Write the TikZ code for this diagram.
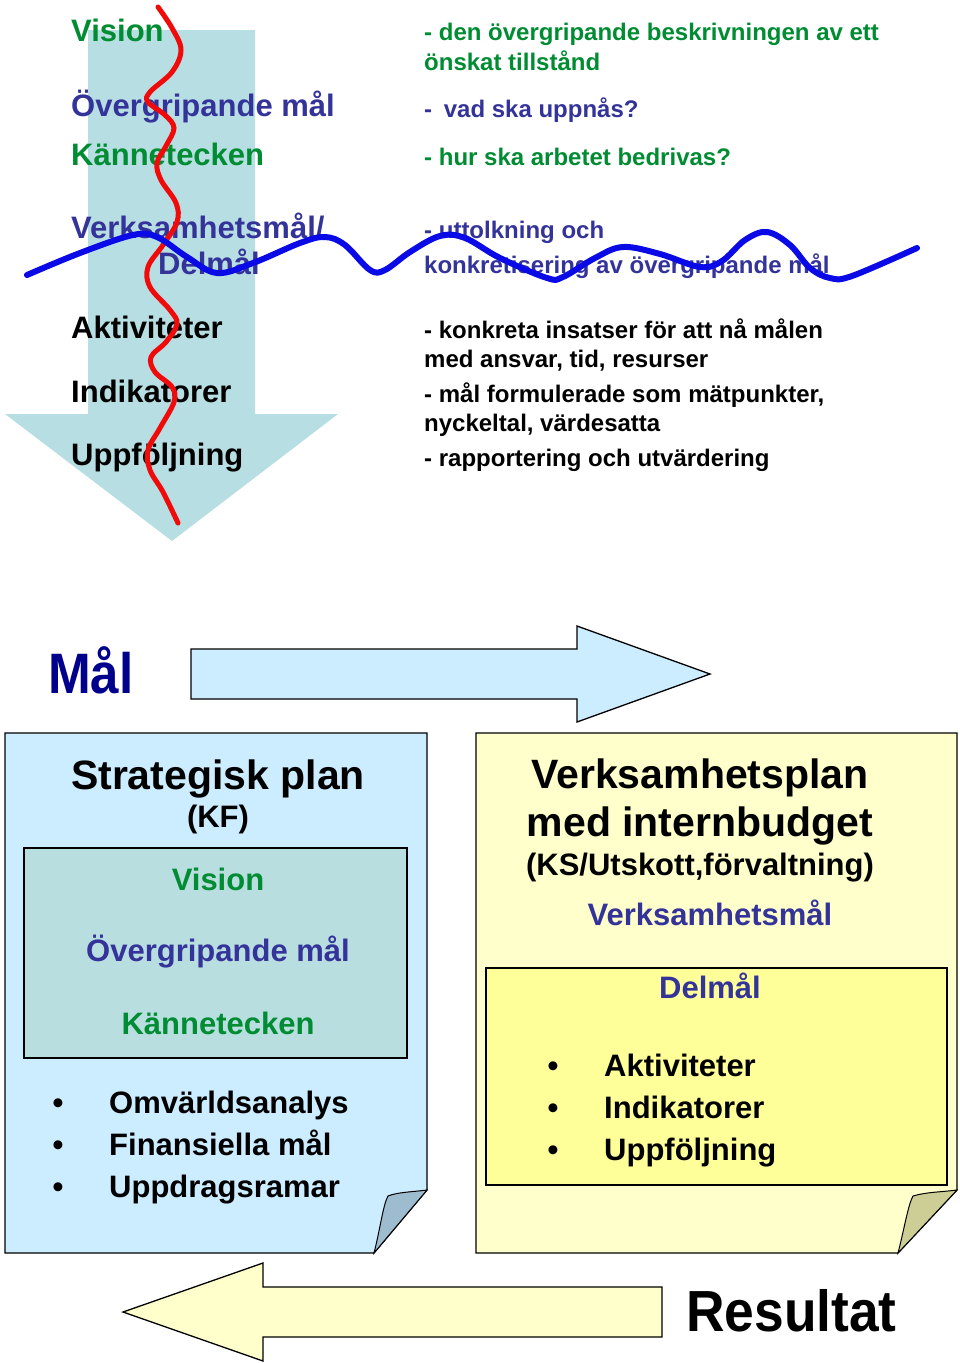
\documentclass[tikz,border=0pt]{standalone}
\usepackage{fontspec}
\setmainfont{Liberation Sans}
\definecolor{grn}{RGB}{0,140,50}
\definecolor{blu}{RGB}{51,51,153}
\definecolor{navy}{RGB}{0,0,140}
\definecolor{arrowfill}{RGB}{183,222,226}
\definecolor{lightblue}{RGB}{204,236,255}
\definecolor{innerteal}{RGB}{185,222,224}
\definecolor{lightyel}{RGB}{255,255,204}
\definecolor{yel}{RGB}{255,255,153}
\definecolor{flapblue}{RGB}{158,188,208}
\definecolor{flapyel}{RGB}{205,205,150}
\definecolor{wavered}{RGB}{240,10,10}
\definecolor{waveblue}{RGB}{10,10,230}
\begin{document}
\begin{tikzpicture}[x=1pt,y=-1pt,
  lt/.style={anchor=base west,inner sep=0pt,font=\fontsize{31}{37}\selectfont\bfseries},
  rt/.style={anchor=base west,inner sep=0pt,font=\fontsize{24}{29}\selectfont\bfseries},
  ct/.style={anchor=base,inner sep=0pt,font=\fontsize{31}{37}\selectfont\bfseries},
  big/.style={anchor=base,inner sep=0pt,font=\fontsize{41}{48}\selectfont\bfseries},
  bul/.style={anchor=base,inner sep=0pt,font=\fontsize{31}{37}\selectfont\bfseries},
  outline/.style={draw=black,line width=1.3pt,line join=miter},
  wave/.style={line width=5pt,line cap=round}]
\useasboundingbox (0,0) rectangle (960,1363);
\fill[white] (0,0) rectangle (960,1363);

% ---- big down arrow
\fill[arrowfill] (88,30) -- (255,30) -- (255,414) -- (338,414) -- (172,541) -- (5,414) -- (88,414) -- cycle;

% ---- left texts
\node[lt,text=grn] (l1) at (71,41) {Vision};
\node[lt,text=blu] (l2) at (71,116) {Övergripande mål};
\node[lt,text=grn] (l3) at (71,165) {Kännetecken};
\node[lt,text=blu] (l4) at (71,238) {Verksamhetsmål/};
\node[lt,text=blu] (l5) at (158,274) {Delmål};
\node[lt] (l6) at (71,338) {Aktiviteter};
\node[lt] (l7) at (71,402) {Indikatorer};
\node[lt] (l8) at (71,465) {Uppföljning};

% ---- right texts
\node[rt,text=grn] (r1) at (424,40) {- den övergripande beskrivningen av ett};
\node[rt,text=grn] (r2) at (424,70) {önskat tillstånd};
\node[rt,text=blu] (r3) at (424,117) {-\hspace{5pt} vad ska uppnås?};
\node[rt,text=grn] (r4) at (424,165) {- hur ska arbetet bedrivas?};
\node[rt,text=blu] (r5) at (424,238) {- uttolkning och};
\node[rt,text=blu] (r6) at (424,273) {konkretisering av övergripande mål};
\node[rt] (r7) at (424,338) {- konkreta insatser för att nå målen};
\node[rt] (r8) at (424,367) {med ansvar, tid, resurser};
\node[rt] (r9) at (424,402) {- mål formulerade som mätpunkter,};
\node[rt] (r10) at (424,431) {nyckeltal, värdesatta};
\node[rt] (r11) at (424,466) {- rapportering och utvärdering};

% ---- red wave
\draw[wave,wavered] plot[smooth,tension=0.6] coordinates {(158,7) (172,28) (181,50) (172,72) (150,92) (148,102) (165,115) (174,128) (166,146) (157,163) (161,180) (176,203) (177,222) (163,245) (148,267) (150,287) (170,310) (177,324) (166,342) (151,357) (155,372) (172,387) (174,402) (160,428) (148,450) (150,470) (163,492) (178,523)};

% ---- blue wave
\draw[wave,line width=6pt,waveblue] plot[smooth,tension=0.6] coordinates {(27,275) (80,253) (133,235) (157,237) (187,257) (217,273) (253,263) (300,243) (325,237) (345,245) (370,270) (385,270) (410,252) (440,236) (465,238) (500,258) (547,278) (563,277) (595,258) (623,247) (660,254) (700,267) (722,261) (745,240) (767,232) (790,245) (810,268) (830,278) (852,276) (917,248)};

% ---- Mål
\node[anchor=base west,inner sep=0pt,text=navy,font=\fontsize{57}{64}\selectfont\bfseries,xscale=0.9] (mal) at (48,693) {Mål};
\draw[outline,fill=lightblue] (191,649) -- (577,649) -- (577,626) -- (710,674) -- (577,722) -- (577,699) -- (191,699) -- cycle;

% ---- left page
\draw[outline,fill=lightblue] (5,733) -- (427,733) -- (427,1190) -- (374,1253) -- (5,1253) -- cycle;
\draw[outline,fill=flapblue,line width=1pt] (374,1253) .. controls (380,1230) and (383,1205) .. (388,1196) .. controls (398,1192) and (412,1192) .. (427,1190) -- cycle;
\draw[outline,fill=innerteal] (24,848) rectangle (407,1058);
\node[big] (sp) at (218,789) {Strategisk plan};
\node[ct] (kf) at (218,827) {(KF)};
\node[ct,text=grn] (sv) at (218,890) {Vision};
\node[ct,text=blu] (so) at (218,961) {Övergripande mål};
\node[ct,text=grn] (sk) at (218,1034) {Kännetecken};
\node[bul] (b1) at (58,1113) {•};
\node[bul] (b2) at (58,1155) {•};
\node[bul] (b3) at (58,1197) {•};
\node[lt] (t1) at (109,1113) {Omvärldsanalys};
\node[lt] (t2) at (109,1155) {Finansiella mål};
\node[lt] (t3) at (109,1197) {Uppdragsramar};

% ---- right page
\draw[outline,fill=lightyel] (476,733) -- (957,733) -- (957,1190) -- (898,1253) -- (476,1253) -- cycle;
\draw[outline,fill=flapyel,line width=1pt] (898,1253) .. controls (904,1230) and (908,1205) .. (913,1196) .. controls (926,1192) and (942,1192) .. (957,1190) -- cycle;
\draw[outline,fill=yel] (486,968) rectangle (947,1185);
\node[big] (vp1) at (700,788) {Verksamhetsplan};
\node[big] (vp2) at (700,836) {med internbudget};
\node[ct] (vp3) at (700,875) {(KS/Utskott,förvaltning)};
\node[ct,text=blu] (vm) at (710,925) {Verksamhetsmål};
\node[ct,text=blu] (dm) at (710,998) {Delmål};
\node[bul] (c1) at (553,1076) {•};
\node[bul] (c2) at (553,1118) {•};
\node[bul] (c3) at (553,1160) {•};
\node[lt] (u1) at (604,1076) {Aktiviteter};
\node[lt] (u2) at (604,1118) {Indikatorer};
\node[lt] (u3) at (604,1160) {Uppföljning};

% ---- bottom arrow
\draw[outline,fill=lightyel] (662,1287) -- (263,1287) -- (263,1263) -- (123,1312) -- (263,1361) -- (263,1337) -- (662,1337) -- cycle;
\node[anchor=base west,inner sep=0pt,font=\fontsize{58}{66}\selectfont\bfseries,xscale=0.92] (res) at (686,1331) {Resultat};
\end{tikzpicture}
\end{document}
